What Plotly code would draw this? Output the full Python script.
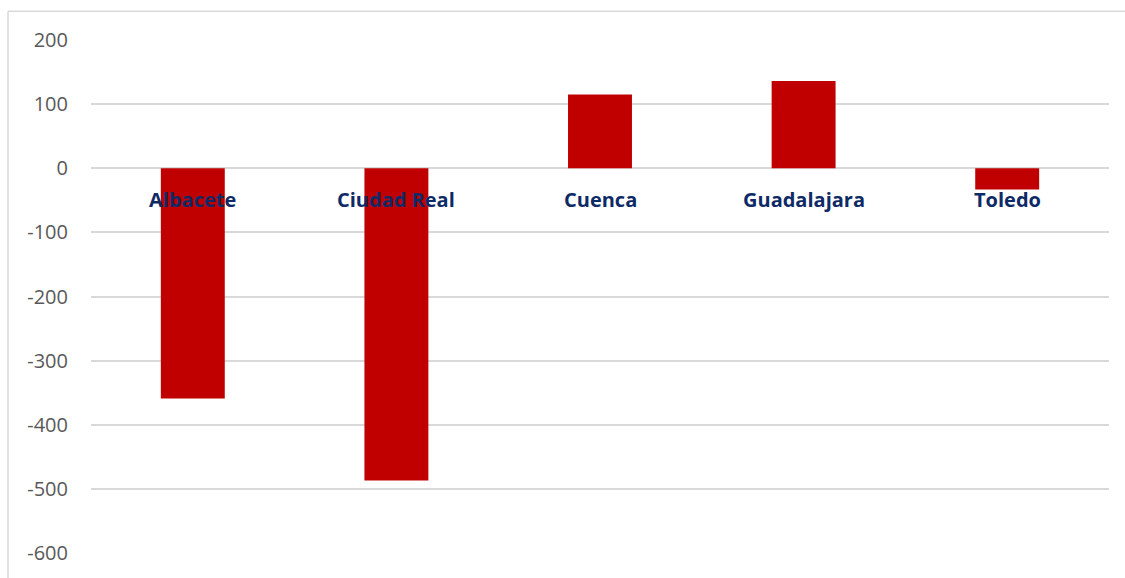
import plotly.graph_objects as go

provincias = ["Albacete", "Ciudad Real", "Cuenca", "Guadalajara", "Toledo"]
valores = [-359, -487, 115, 136, -33]
ticks_y = [200, 100, 0, -100, -200, -300, -400, -500, -600]

W, H = 1125, 578
ml, mr, mt, mb = 91, 16, 40, 21
pw, ph = W - ml - mr, H - mt - mb

fig = go.Figure(
    go.Bar(
        x=provincias,
        y=valores,
        marker={"color": "#C00000", "line": {"width": 0}},
        width=0.314,
        hoverinfo="x+y",
    )
)

# Etiquetas de categoria bajo la linea del cero
for p in provincias:
    fig.add_annotation(
        x=p,
        y=0,
        text="<b>%s</b>" % p,
        showarrow=False,
        yanchor="middle",
        yshift=-31,
        font={"family": "Open Sans", "size": 20, "color": "#0E2A66"},
    )

# Borde del area del grafico (solo lados izquierdo y superior visibles)
bx = (8 - ml) / pw
by = 1 + (mt - 11) / ph
borde = {"color": "#D9D9D9", "width": 1.5}
fig.add_shape(type="line", xref="paper", yref="paper",
              x0=bx, x1=bx, y0=-1, y1=by, line=borde, layer="below")
fig.add_shape(type="line", xref="paper", yref="paper",
              x0=bx, x1=2, y0=by, y1=by, line=borde, layer="below")

fig.update_layout(
    width=W,
    height=H,
    margin={"l": ml, "r": mr, "t": mt, "b": mb},
    paper_bgcolor="white",
    plot_bgcolor="white",
    showlegend=False,
    font={"family": "Open Sans"},
)
fig.update_xaxes(showticklabels=False, showgrid=False, zeroline=False, showline=False)
fig.update_yaxes(
    range=[-600, 200],
    tickvals=ticks_y,
    ticktext=[str(v) for v in ticks_y],
    tickfont={"family": "Open Sans", "size": 20, "color": "#595959"},
    gridcolor="#D9D9D9",
    gridwidth=1.5,
    zeroline=False,
    showline=False,
    ticklabelstandoff=22,
)

# quitar el margen por defecto del body para que el grafico ocupe la ventana
fig.write_html(
    "out.html",
    config={"displayModeBar": False},
    post_script="document.body.style.margin='0';document.body.style.overflow='hidden';",
)
